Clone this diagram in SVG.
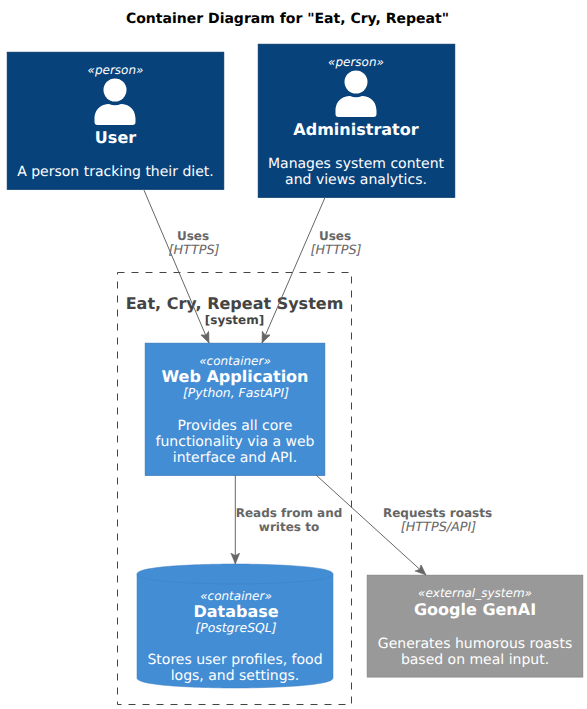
<svg xmlns="http://www.w3.org/2000/svg" width="587" height="709" viewBox="0 0 587 709">
<defs>
<marker id="arrow" markerUnits="userSpaceOnUse" markerWidth="12" markerHeight="10" refX="11" refY="4.5" orient="auto"><path d="M0,0 L11,4.5 L0,9 L2.5,4.5 Z" fill="#666666" stroke="#666666" stroke-width="0.5"/></marker>
<g id="person-icon"><circle cx="0" cy="-24" r="11.5" fill="#fff"/><path d="M-20.5,5 C-20.5,-7 -11,-10 -6,-10 Q0,-7.5 6,-10 C11,-10 20.5,-7 20.5,5 V8 Q20.5,11 17.5,11 H-17.5 Q-20.5,11 -20.5,8 Z" fill="#fff"/></g>
</defs>
<style>
text{font-family:"DejaVu Sans",sans-serif;text-anchor:middle;fill:#fff;text-rendering:geometricPrecision}
.st{font-size:12px;font-style:italic}
.nm{font-size:16px;font-weight:bold}
.tc{font-size:12.400px;font-style:italic}
.ds{font-size:14px}
.rl{font-size:12px;font-weight:bold;fill:#666666}
.rt{font-size:12.800px;font-style:italic;fill:#666666}
.line{fill:none;stroke:#666666;stroke-width:1;marker-end:url(#arrow)}
</style>
<text x="287.500" y="23" style="font-size:14px;font-weight:bold;fill:#000">Container Diagram for "Eat, Cry, Repeat"</text>
<g id="boundary">
<rect x="117.500" y="272.500" width="234" height="432" fill="none" stroke="#444444" stroke-width="1" stroke-dasharray="7,7"/>
<text x="234.500" y="309" style="font-size:16px;font-weight:bold;fill:#444444">Eat, Cry, Repeat System</text>
<text x="234.500" y="324" style="font-size:12px;font-weight:bold;fill:#444444">[system]</text>
</g>
<g id="user">
<rect x="7.300" y="52.300" width="216.400" height="137" fill="#08427B" stroke="#073B6F"/>
<text class="st" x="115.500" y="74">«person»</text>
<use href="#person-icon" x="115" y="114"/>
<text class="nm" x="115.500" y="143">User</text>
<text class="ds" x="115.500" y="176">A person tracking their diet.</text>
</g>
<g id="administrator">
<rect x="258.300" y="44.300" width="196.400" height="153" fill="#08427B" stroke="#073B6F"/>
<text class="st" x="356" y="65.500">«person»</text>
<use href="#person-icon" x="356" y="106"/>
<text class="nm" x="356" y="135">Administrator</text>
<text class="ds" x="356" y="168">Manages system content</text>
<text class="ds" x="356" y="184">and views analytics.</text>
</g>
<g id="web-application">
<rect x="145.300" y="343.300" width="179.400" height="132" fill="#438DD5" stroke="#3C7FC0"/>
<text class="st" x="235" y="365">«container»</text>
<text class="nm" x="235" y="382">Web Application</text>
<text class="tc" x="236" y="397">[Python, FastAPI]</text>
<text class="ds" x="235" y="430">Provides all core</text>
<text class="ds" x="235" y="446">functionality via a web</text>
<text class="ds" x="235" y="462">interface and API.</text>
</g>
<g id="database">
<path d="M137,574 C137,564 235,564 235,564 C235,564 333,564 333,574 V678 C333,688 235,688 235,688 C235,688 137,688 137,678 Z" fill="#438DD5" stroke="#3C7FC0" stroke-width="0.5"/>
<path d="M137,574 C137,584 235,584 235,584 C235,584 333,584 333,574" fill="none" stroke="#3C7FC0" stroke-width="0.5"/>
<text class="st" x="236" y="600">«container»</text>
<text class="nm" x="236" y="617">Database</text>
<text class="tc" x="236" y="632">[PostgreSQL]</text>
<text class="ds" x="235" y="664">Stores user profiles, food</text>
<text class="ds" x="235" y="680">logs, and settings.</text>
</g>
<g id="google-genai">
<rect x="367.300" y="575.300" width="215.400" height="101.700" fill="#999999" stroke="#8A8A8A"/>
<text class="st" x="475" y="597">«external_system»</text>
<text class="nm" x="475" y="615">Google GenAI</text>
<text class="ds" x="475" y="648">Generates humorous roasts</text>
<text class="ds" x="475" y="664">based on meal input.</text>
</g>
<g id="connectors">
<line class="line" x1="143.500" y1="189" x2="209" y2="343"/>
<line class="line" x1="325" y1="197.500" x2="262" y2="343"/>
<line class="line" x1="235.300" y1="475" x2="235.300" y2="564"/>
<line class="line" x1="316" y1="475" x2="426" y2="575"/>
<text class="rl" x="193" y="240">Uses</text>
<text class="rt" x="194" y="254">[HTTPS]</text>
<text class="rl" x="335" y="240">Uses</text>
<text class="rt" x="336" y="254">[HTTPS]</text>
<text class="rl" x="289" y="517">Reads from and</text>
<text class="rl" x="289" y="531">writes to</text>
<text class="rl" x="437.500" y="517">Requests roasts</text>
<text class="rt" x="438.500" y="531">[HTTPS/API]</text>
</g>
</svg>
